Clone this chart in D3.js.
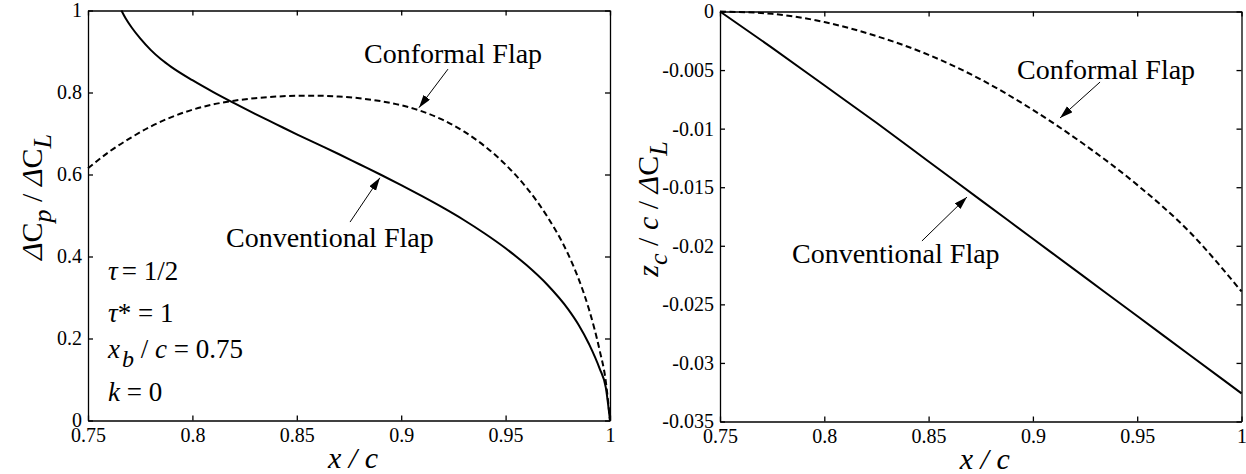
<!DOCTYPE html>
<html>
<head>
<meta charset="utf-8">
<script src="https://cdn.jsdelivr.net/npm/d3@7"></script>
<style>
  body { margin: 0; background: #fff; }
  .eje path, .eje line { stroke: #000; stroke-width: 1.3; }
</style>
</head>
<body>
<svg id="graf" width="1246" height="474"></svg>
<script>
// -- Datos --
xTicks  = [0.75, 0.8, 0.85, 0.9, 0.95, 1]
cpTicks = [0, 0.2, 0.4, 0.6, 0.8, 1]
zTicks  = [0, -0.005, -0.01, -0.015, -0.02, -0.025, -0.03, -0.035]

// dCp / dCL, flap convencional (linea continua)
xCpConv = [0.766, 0.768, 0.771, 0.775, 0.78, 0.785, 0.79, 0.80, 0.81, 0.82, 0.83, 0.84, 0.85, 0.86, 0.87, 0.88, 0.89,
           0.90, 0.91, 0.92, 0.93, 0.94, 0.95, 0.96, 0.97, 0.98, 0.985, 0.99, 0.995, 0.998, 1.0]
cpConv  = [1.0, 0.981, 0.958, 0.932, 0.904, 0.881, 0.862, 0.83, 0.801, 0.774, 0.748, 0.723, 0.698, 0.674, 0.65, 0.625, 0.60,
           0.574, 0.547, 0.519, 0.489, 0.456, 0.42, 0.379, 0.331, 0.271, 0.233, 0.186, 0.127, 0.08, 0.0]

// dCp / dCL, flap conformal (linea discontinua)
xCpConf = [0.75, 0.76, 0.77, 0.78, 0.79, 0.80, 0.81, 0.82, 0.83, 0.84, 0.85, 0.86, 0.87, 0.88, 0.89,
           0.90, 0.91, 0.92, 0.93, 0.94, 0.95, 0.96, 0.97, 0.98, 0.985, 0.99, 0.995, 0.998, 1.0]
cpConf  = [0.615, 0.655, 0.688, 0.717, 0.74, 0.758, 0.771, 0.78, 0.786, 0.79, 0.792, 0.792, 0.79, 0.786, 0.779,
           0.769, 0.754, 0.733, 0.705, 0.669, 0.624, 0.568, 0.497, 0.405, 0.345, 0.27, 0.172, 0.095, 0.0]

// zc / c / dCL
xZ     = [0.75, 0.775, 0.80, 0.825, 0.85, 0.875, 0.90, 0.925, 0.95, 0.975, 1.0]
zConv  = [0, -0.0031, -0.0063, -0.0095, -0.0128, -0.0161, -0.0194, -0.0227, -0.026, -0.0293, -0.0326]
zConf  = [0, -0.0002, -0.0009, -0.0021, -0.0037, -0.0058, -0.0084, -0.0114, -0.0148, -0.0188, -0.0239]

fuente = 'Liberation Serif, Tinos, Times New Roman, Times, DejaVu Serif, serif'

// -- Canvas --
svg = d3.select('#graf')
        .attr('font-family', fuente)

svg.append('defs').append('marker')
   .attr('id', 'flecha')
   .attr('markerUnits', 'userSpaceOnUse')
   .attr('markerWidth', 14).attr('markerHeight', 9)
   .attr('refX', 13).attr('refY', 4)
   .attr('orient', 'auto')
   .append('path')
   .attr('d', 'M0,0 L13,4 L0,8 Z')
   .attr('fill', '#000')

fmt = d => String(+d.toFixed(3))

function estiloEje(sel) {
    sel.attr('font-family', fuente)
       .attr('font-size', 20)
    sel.selectAll('text').attr('fill', '#000')
}

function panel(cfg) {
    g = svg.append('g')
           .attr('transform', `translate(${cfg.left}, ${cfg.top})`)

    x = d3.scaleLinear().domain([0.75, 1]).range([0, cfg.ancho])
    y = d3.scaleLinear().domain(cfg.yDom).range([cfg.alto, 0])

    // ejes (ticks hacia dentro en los cuatro lados)
    g.append('g').attr('class', 'eje')
     .attr('transform', `translate(0, ${cfg.alto})`)
     .call(d3.axisBottom(x).tickValues(xTicks).tickFormat(fmt).tickSizeInner(-5).tickSizeOuter(0).tickPadding(7))
     .call(estiloEje)
    g.append('g').attr('class', 'eje')
     .call(d3.axisTop(x).tickValues(xTicks).tickFormat('').tickSizeInner(-5).tickSizeOuter(0))
    g.append('g').attr('class', 'eje')
     .call(d3.axisLeft(y).tickValues(cfg.yTicks).tickFormat(fmt).tickSizeInner(-5).tickSizeOuter(0).tickPadding(6))
     .call(estiloEje)
    g.append('g').attr('class', 'eje')
     .attr('transform', `translate(${cfg.ancho}, 0)`)
     .call(d3.axisRight(y).tickValues(cfg.yTicks).tickFormat('').tickSizeInner(-5).tickSizeOuter(0))

    linea = d3.line()
              .x(d => x(d[0]))
              .y(d => y(d[1]))
              .curve(d3.curveMonotoneX)

    cfg.series.forEach(s => {
        g.append('path')
         .datum(d3.zip(s.xs, s.ys))
         .attr('d', linea)
         .attr('fill', 'none')
         .attr('stroke', '#000')
         .attr('stroke-width', 2)
         .attr('stroke-dasharray', s.dash ? '6,3.5' : null)
    })

    cfg.notas.forEach(n => {
        g.append('text')
         .attr('font-size', 28)
         .attr('x', x(n.tx)).attr('y', y(n.ty))
         .text(n.texto)
        g.append('line')
         .attr('x1', x(n.ax)).attr('y1', y(n.ay))
         .attr('x2', x(n.hx)).attr('y2', y(n.hy))
         .attr('stroke', '#000')
         .attr('stroke-width', 1)
         .attr('marker-end', 'url(#flecha)')
    })

    // titulo eje x
    g.append('text')
     .attr('x', cfg.ancho / 2 + 4)
     .attr('y', cfg.alto + 47)
     .attr('text-anchor', 'middle')
     .attr('font-size', 30)
     .attr('font-style', 'italic')
     .text('x / c')

    return { g, x, y }
}

izq = panel({
    left: 88, top: 10.5, ancho: 522, alto: 410,
    yDom: [0, 1], yTicks: cpTicks,
    series: [
        { xs: xCpConv, ys: cpConv, dash: false },
        { xs: xCpConf, ys: cpConf, dash: true }
    ],
    notas: [
        { texto: 'Conformal Flap', tx: 0.8822, ty: 0.872, ax: 0.9224, ay: 0.857, hx: 0.9085, hy: 0.763 },
        { texto: 'Conventional Flap', tx: 0.8161, ty: 0.423, ax: 0.8755, ay: 0.484, hx: 0.8898, hy: 0.592 }
    ]
})

// parametros del caso
params = izq.g.append('g')
              .attr('font-size', 27)
px = izq.x(0.7596)
t1 = params.append('text').attr('x', px).attr('y', izq.y(0.3427))
t1.append('tspan').attr('font-style', 'italic').text('τ')
t1.append('tspan').attr('dx', 4).text('= 1/2')
t2 = params.append('text').attr('x', px).attr('y', izq.y(0.2402))
t2.append('tspan').attr('font-style', 'italic').text('τ')
t2.append('tspan').text('* = 1')
t3 = params.append('text').attr('x', px).attr('y', izq.y(0.1524))
t3.append('tspan').attr('font-style', 'italic').text('x')
t3.append('tspan').attr('font-style', 'italic').attr('font-size', 24).attr('dx', 2).attr('dy', 9).text('b')
t3.append('tspan').attr('dy', -9).text(' / ')
t3.append('tspan').attr('font-style', 'italic').text('c')
t3.append('tspan').text(' = 0.75')
t4 = params.append('text').attr('x', px).attr('y', izq.y(0.0476))
t4.append('tspan').attr('font-style', 'italic').text('k')
t4.append('tspan').text(' = 0')

// titulo eje y izquierdo
yl = svg.append('text')
        .attr('transform', 'translate(42, 197) rotate(-90)')
        .attr('text-anchor', 'middle')
        .attr('font-size', 30)
yl.append('tspan').attr('font-style', 'italic').text('Δ')
yl.append('tspan').text('C')
yl.append('tspan').attr('font-style', 'italic').attr('font-size', 26).attr('dy', 9).text('p')
yl.append('tspan').attr('dy', -9).text(' / ')
yl.append('tspan').attr('font-style', 'italic').text('Δ')
yl.append('tspan').text('C')
yl.append('tspan').attr('font-style', 'italic').attr('font-size', 26).attr('dy', 9).text('L')

der = panel({
    left: 720, top: 11.5, ancho: 521.5, alto: 410,
    yDom: [-0.035, 0], yTicks: zTicks,
    series: [
        { xs: xZ, ys: zConv, dash: false },
        { xs: xZ, ys: zConf, dash: true }
    ],
    notas: [
        { texto: 'Conformal Flap', tx: 0.8924, ty: -0.00576, ax: 0.9322, ay: -0.00602, hx: 0.913, hy: -0.00909 },
        { texto: 'Conventional Flap', tx: 0.7845, ty: -0.02147, ax: 0.8468, ay: -0.01959, hx: 0.8684, hy: -0.01584 }
    ]
})

// titulo eje y derecho
yr = svg.append('text')
        .attr('transform', 'translate(658, 209) rotate(-90)')
        .attr('text-anchor', 'middle')
        .attr('font-size', 30)
yr.append('tspan').attr('font-style', 'italic').text('z')
yr.append('tspan').attr('font-style', 'italic').attr('font-size', 26).attr('dy', 9).text('c')
yr.append('tspan').attr('dy', -9).text(' / ')
yr.append('tspan').attr('font-style', 'italic').text('c')
yr.append('tspan').text(' / ')
yr.append('tspan').attr('font-style', 'italic').text('Δ')
yr.append('tspan').text('C')
yr.append('tspan').attr('font-style', 'italic').attr('font-size', 26).attr('dy', 9).text('L')
</script>
</body>
</html>
